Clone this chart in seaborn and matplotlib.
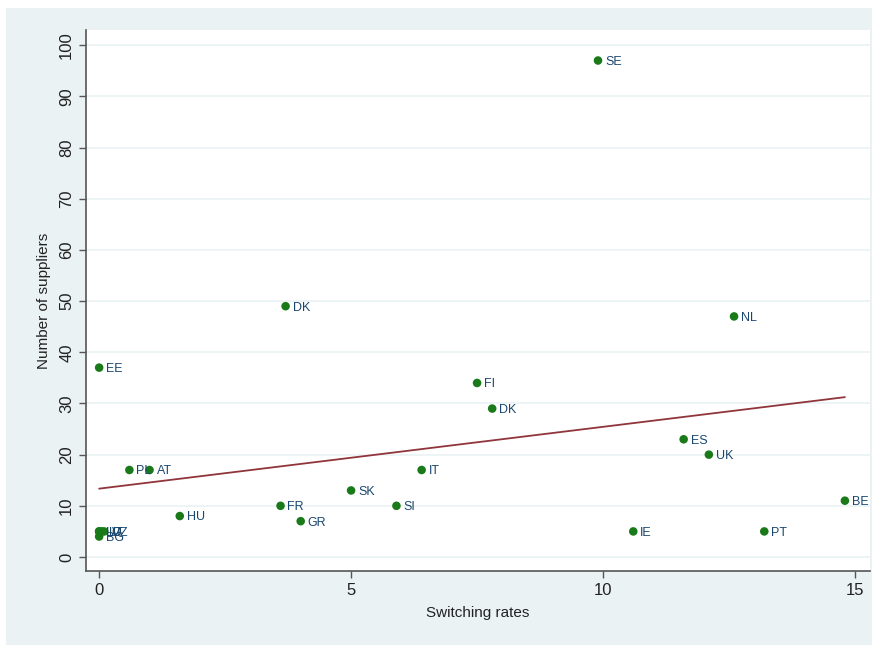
import matplotlib
matplotlib.use("Agg")
import matplotlib.pyplot as plt
import seaborn as sns
import pandas as pd
from matplotlib.patches import Rectangle

# values
countries = ["SE", "DK", "NL", "EE", "FI", "DK", "ES", "UK", "IT", "PL", "AT",
             "SK", "FR", "SI", "BE", "HU", "GR", "IE", "PT",
             "LV", "LT", "CZ", "LU", "BG"]
switching = [9.9, 3.7, 12.6, 0.0, 7.5, 7.8, 11.6, 12.1, 6.4, 0.6, 1.0,
             5.0, 3.6, 5.9, 14.8, 1.6, 4.0, 10.6, 13.2,
             0.0, 0.05, 0.1, 0.0, 0.0]
suppliers = [97, 49, 47, 37, 34, 29, 23, 20, 17, 17, 17,
             13, 10, 10, 11, 8, 7, 5, 5,
             5, 5, 5, 5, 4]

df = pd.DataFrame({"country": countries, "switch": switching, "n": suppliers})

sns.set_style("white")
plt.rcParams["font.family"] = ["Liberation Sans", "DejaVu Sans"]

fig = plt.figure(figsize=(8.78, 6.45), dpi=100, facecolor="white")
# light blue-grey outer region, as in the Stata graph
fig.patches.append(Rectangle((0.007, 0.0), 0.986, 0.988, transform=fig.transFigure,
                             facecolor="#eaf2f3", edgecolor="none", zorder=-10))
ax = fig.add_axes([0.098, 0.115, 0.893, 0.838])
ax.set_facecolor("white")

sns.regplot(data=df, x="switch", y="n", scatter=False, ci=None, ax=ax,
            line_kws={"color": "#90353b", "lw": 1.3, "zorder": 2})
sns.scatterplot(data=df, x="switch", y="n", ax=ax, color="#1a7a1a", s=38,
                edgecolor="none", zorder=3, legend=False)

for _, r in df.iterrows():
    ax.annotate(r["country"], (r["switch"], r["n"]), xytext=(5, -1),
                textcoords="offset points", va="center", ha="left",
                fontsize=9, color="#1a476f", zorder=4)

ax.set_xlim(-0.26, 15.3)
ax.set_ylim(-2.7, 102.9)
ax.set_xticks([0, 5, 10, 15])
ax.set_yticks(range(0, 101, 10))
ax.yaxis.grid(True, color="#eaf2f3", lw=1.2)
ax.set_axisbelow(True)
for s in ["top", "right"]:
    ax.spines[s].set_visible(False)
for s in ["left", "bottom"]:
    ax.spines[s].set_color("#555555")
    ax.spines[s].set_linewidth(1.2)
ax.tick_params(axis="both", direction="out", length=5, width=1, color="#555555",
               labelsize=12, labelcolor="#222222", left=True, bottom=True)
for lab in ax.get_yticklabels():
    lab.set_rotation(90)
    lab.set_va("center")
ax.set_xlabel("Switching rates", fontsize=11, color="#222222", labelpad=6)
ax.set_ylabel("Number of suppliers", fontsize=11, color="#222222", labelpad=6)

fig.savefig("out.png", dpi=100, facecolor=fig.get_facecolor())
